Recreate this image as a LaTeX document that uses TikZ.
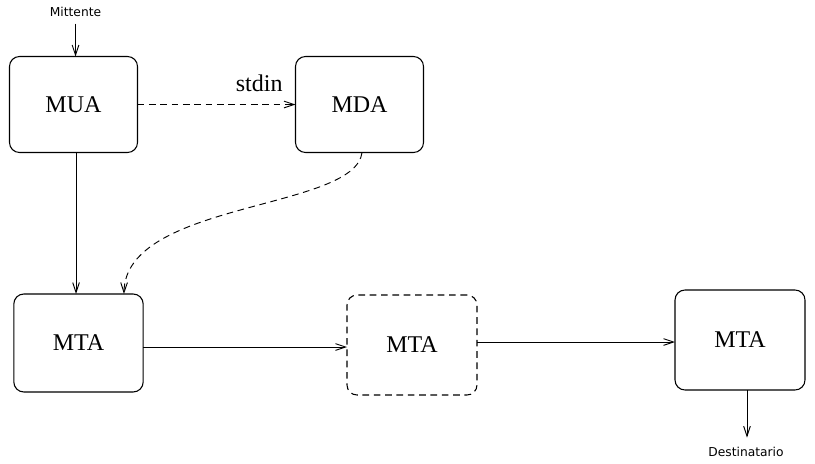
\documentclass[tikz,border=0pt]{standalone}
\usepackage{fontspec}
\setmainfont{Liberation Serif}
\newfontfamily\tagfont{DejaVu Sans}
\usetikzlibrary{arrows.meta,calc}

\begin{document}
\begin{tikzpicture}[x=0.75pt,y=-0.75pt,
	agent/.style={draw,line width=0.8pt,shape=rectangle,rounded corners=7.5pt,minimum width=96pt,minimum height=72pt,inner sep=0pt,outer sep=0pt,font=\fontsize{18}{20}\selectfont},
	ghost/.style={agent,dash pattern=on 5pt off 3.5pt},
	tag/.style={inner sep=0pt,font=\tagfont\fontsize{9.2}{10}\selectfont},
	flow/.style={line width=0.7pt,-{Straight Barb[length=7.5pt,width=5pt]}},
	pipe/.style={flow,dash pattern=on 5pt off 3.5pt}]
\useasboundingbox (0,0) rectangle (815,464);
\node[tag] (snd) at (75.5,12) {Mittente};
\node[agent] (mua) at (73.5,104.5) {MUA};
\node[agent] (mda) at (359.5,104.5) {MDA};
\node[agent,minimum width=97pt,minimum height=73.5pt] (mtaA) at (78.5,343) {MTA};
\node[ghost,minimum width=97.5pt,minimum height=75pt] (mtaB) at (412,345) {MTA};
\node[agent,minimum width=97.5pt,minimum height=75pt] (mtaC) at (740,340) {MTA};
\node[tag] (rcv) at (746,452) {Destinatario};
\draw[flow,shorten <=5pt] (snd) -- (snd|-mua.north);
\draw[pipe] (mua) --node[pos=0.77,above=6pt,font=\fontsize{18}{20}\selectfont] {stdin} (mda);
\draw[flow] ([xshift=1.9pt]mua.south) -- ([xshift=1.9pt]mua.south|-mtaA.north);
\draw[pipe] ([xshift=1.9pt]mda.south) .. controls +(-7,58) and +(1,-93) .. ([xshift=34.1pt]mtaA.north);
\draw[flow] (mtaA.east|-0,347) -- (mtaB.west|-0,347);
\draw[flow] (mtaB.east|-0,342) -- (mtaC.west|-0,342);
\draw[flow,shorten >=7pt] ([xshift=5.25pt]mtaC.south) -- ([xshift=5.25pt]mtaC.south|-rcv.north);
\end{tikzpicture}
\end{document}
